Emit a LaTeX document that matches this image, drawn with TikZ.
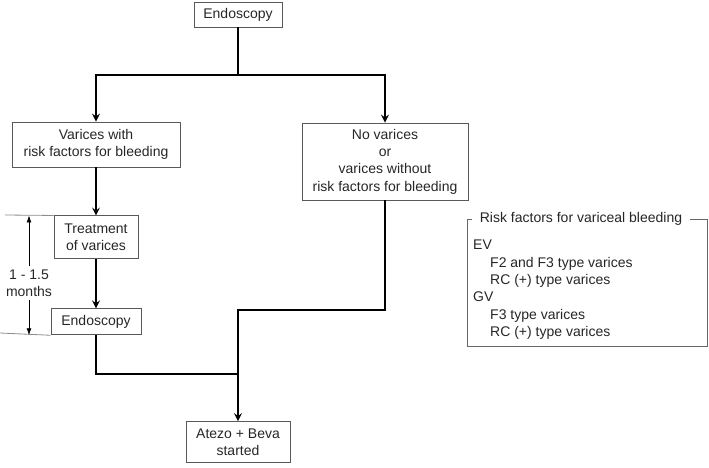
\documentclass[tikz,border=0pt]{standalone}
\usepackage{fontspec}
\setmainfont{Liberation Sans}
\usetikzlibrary{arrows, arrows.meta, positioning}

\begin{document}
\begin{tikzpicture}[
    x=1pt, y=-1pt,
    font=\fontsize{14}{17.3}\selectfont,
    box/.style={rectangle, draw=black!65, line width=0.9pt, align=center, text=black!85, inner sep=3pt},
    arrow/.style={->, >=stealth, line width=2.4pt},
    link/.style={line width=2.4pt},
    dimline/.style={draw=black!45, line width=0.8pt},
    dimarrow/.style={-{Latex[length=7pt, width=5pt]}, line width=0.8pt},
    legend/.style={draw=black!60, line width=0.9pt}
]
    \useasboundingbox (0,0) rectangle (709,467);

    \node[box, minimum width=88pt, minimum height=25pt] (endotop) at (238,14.5) {Endoscopy};
    \node[box, minimum width=168pt, minimum height=45pt] (varices) at (96,144.5) {Varices with\\risk factors for bleeding};
    \node[box, minimum width=166pt, minimum height=77pt] (novarices) at (385,161.5) {No varices\\or\\varices without\\risk factors for bleeding};
    \node[box, minimum width=84pt, minimum height=43pt, below=48pt of varices] (treatment) {Treatment\\of varices};
    \node[box, minimum width=90pt, minimum height=26pt, below=49pt of treatment] (endofollow) {Endoscopy};
    \node[box, minimum width=104pt, minimum height=41pt] (atezo) at (238,442) {Atezo + Beva\\started};

    \coordinate (split) at (238,75);
    \coordinate (rightjoin) at (238,310);
    \coordinate (leftjoin) at (238,374);

    \draw[link] (endotop) -- (split);
    \draw[arrow] (split) -| (varices);
    \draw[arrow] (split) -| (novarices);
    \draw[arrow] (varices) -- (treatment);
    \draw[arrow] (treatment) -- (endofollow);
    \draw[link] (endofollow) |- (leftjoin);
    \draw[arrow] (novarices) |- (rightjoin) -- (atezo);

    % interval between treatment and follow-up
    \coordinate (dimtop) at (5,215);
    \coordinate (dimbottom) at (0,333);
    \node[align=center, text=black!85, inner sep=3pt] (period) at (29,283) {1 - 1.5\\months};
    \draw[dimline] (treatment.north west) -- (dimtop);
    \draw[dimline] (endofollow.south west) -- (dimbottom);
    \draw[dimarrow] (period) -- (period |- treatment.north);
    \draw[dimarrow] (period) -- (period |- endofollow.south);

    % risk factor legend
    \draw[legend] (467,219) rectangle (707,346);
    \node[fill=white, minimum width=218pt, inner ysep=2pt, text=black!85] (risktitle) at (581,219) {Risk factors for variceal bleeding};
    \node[anchor=north west, align=left, inner sep=0pt, text=black!85] (risklist) at (473,240) {EV\\
        \hspace*{17pt}F2 and F3 type varices\\
        \hspace*{17pt}RC (+) type varices\\
        GV\\
        \hspace*{17pt}F3 type varices\\
        \hspace*{17pt}RC (+) type varices};
\end{tikzpicture}
\end{document}
